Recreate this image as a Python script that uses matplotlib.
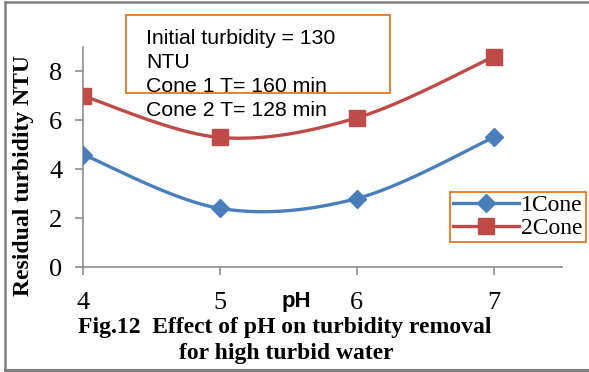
import numpy as np
import matplotlib
matplotlib.use("Agg")
import matplotlib.pyplot as plt
from matplotlib.lines import Line2D
from matplotlib.patches import Rectangle

ph = [4, 5, 6, 7]
cone1 = [4.6, 2.4, 2.8, 5.3]
cone2 = [7.0, 5.3, 6.1, 8.6]
xticks = [4, 5, 6, 7]
yticks = [0, 2, 4, 6, 8]
series_names = ["1Cone", "2Cone"]
info_lines = ["Initial turbidity = 130", "NTU", "Cone 1 T= 160 min", "Cone 2 T= 128 min"]

W, H = 589, 372
fig = plt.figure(figsize=(W / 100, H / 100), dpi=100)

def fx(px):
    return px / W

def fy(py):
    return 1 - py / H

ax = fig.add_axes([fx(83), fy(267), fx(562) - fx(83), fy(47) - fy(267)])
ax.set_xlim(4, 7.5)
ax.set_ylim(0, 9)

def smooth(xs, ys, sx=1.0, sy=1.0, n=40):
    # Excel-like Bezier smoothing computed in scaled space
    P = np.column_stack([np.asarray(xs, float) * sx, np.asarray(ys, float) * sy])
    out = []
    m = len(P)
    for i in range(m - 1):
        p0 = P[i - 1] if i > 0 else P[i]
        p1 = P[i]
        p2 = P[i + 1]
        p3 = P[i + 2] if i + 2 < m else P[i + 1]
        c1 = p1 + (p2 - p0) / 6
        c2 = p2 - (p3 - p1) / 6
        t = np.linspace(0, 1, n)[:, None]
        seg = ((1 - t) ** 3) * p1 + 3 * ((1 - t) ** 2) * t * c1 + 3 * (1 - t) * t ** 2 * c2 + t ** 3 * p2
        out.append(seg if i == 0 else seg[1:])
    S = np.vstack(out)
    return S[:, 0] / sx, S[:, 1] / sy

blue = "#4A7EBB"
red = "#BE4B48"
for ys, col, mk, ms, name in [(cone1, blue, "D", 9.5, series_names[0]),
                              (cone2, red, "s", 12, series_names[1])]:
    sx_, sy_ = smooth(ph, ys, sx=137, sy=24.5)
    ax.plot(sx_, sy_, color=col, lw=2.4, zorder=3)
    ax.plot(ph, ys, linestyle="none", marker=mk, ms=ms, color=col, zorder=4)

handles = [Line2D([], [], color=blue, lw=2.4, marker="D", ms=9.5),
           Line2D([], [], color=red, lw=2.4, marker="s", ms=12)]
leg = fig.legend(handles, series_names, loc="upper left",
                 bbox_to_anchor=(fx(450), fy(192)), frameon=True, fancybox=False,
                 prop={"family": "Liberation Serif", "size": 17},
                 handlelength=2.8, handletextpad=0.1, borderpad=0.12,
                 labelspacing=0.05, borderaxespad=0, framealpha=1)
leg.get_frame().set_edgecolor("#E46C0A")
leg.get_frame().set_linewidth(1.2)

axis_col = "#8C8C8C"
for s in ["top", "right"]:
    ax.spines[s].set_visible(False)
for s in ["left", "bottom"]:
    ax.spines[s].set_color(axis_col)
    ax.spines[s].set_linewidth(1.2)
ax.set_xticks(xticks)
ax.set_yticks(yticks)
ax.set_xticklabels([str(v) for v in xticks], family="Liberation Serif", fontsize=19)
ax.set_yticklabels([str(v) for v in yticks], family="Liberation Serif", fontsize=19)
ax.tick_params(axis="both", direction="out", length=6, width=1.2, color=axis_col)
ax.tick_params(axis="x", pad=12)
ax.tick_params(axis="y", pad=9)

fig.text(fx(296), fy(302), "pH", family="Liberation Sans", fontweight="bold",
         fontsize=16, ha="center", va="center")
fig.text(fx(24), fy(176), "Residual turbidity NTU", family="Liberation Serif",
         fontweight="bold", fontsize=17, rotation=90, ha="center", va="center")
fig.text(fx(285), fy(327), "Fig.12  Effect of pH on turbidity removal",
         family="Liberation Serif", fontweight="bold", fontsize=17,
         ha="center", va="center")
fig.text(fx(286), fy(353), "for high turbid water",
         family="Liberation Serif", fontweight="bold", fontsize=17,
         ha="center", va="center")

# info box
fig.patches.append(Rectangle((fx(126), fy(93)), fx(390) - fx(126), fy(15) - fy(93),
                             transform=fig.transFigure, fill=True, facecolor="white",
                             edgecolor="#E46C0A", lw=1.2, zorder=5))
for i, line in enumerate(info_lines):
    fig.text(fx(146), fy(38 + 24.3 * i), line, family="Liberation Sans",
             fontsize=15.3, ha="left", va="center", zorder=6)

# outer frame (left, top, bottom)
frame_col = "#7F7F7F"
fig.add_artist(Line2D([fx(5), fx(5)], [fy(2), fy(370)], transform=fig.transFigure,
                      color=frame_col, lw=1.8))
fig.add_artist(Line2D([fx(5), fx(589)], [fy(2), fy(2)], transform=fig.transFigure,
                      color=frame_col, lw=1.8))
fig.add_artist(Line2D([fx(5), fx(589)], [fy(370), fy(370)], transform=fig.transFigure,
                      color=frame_col, lw=2.2))

fig.savefig("out.png", dpi=100)
